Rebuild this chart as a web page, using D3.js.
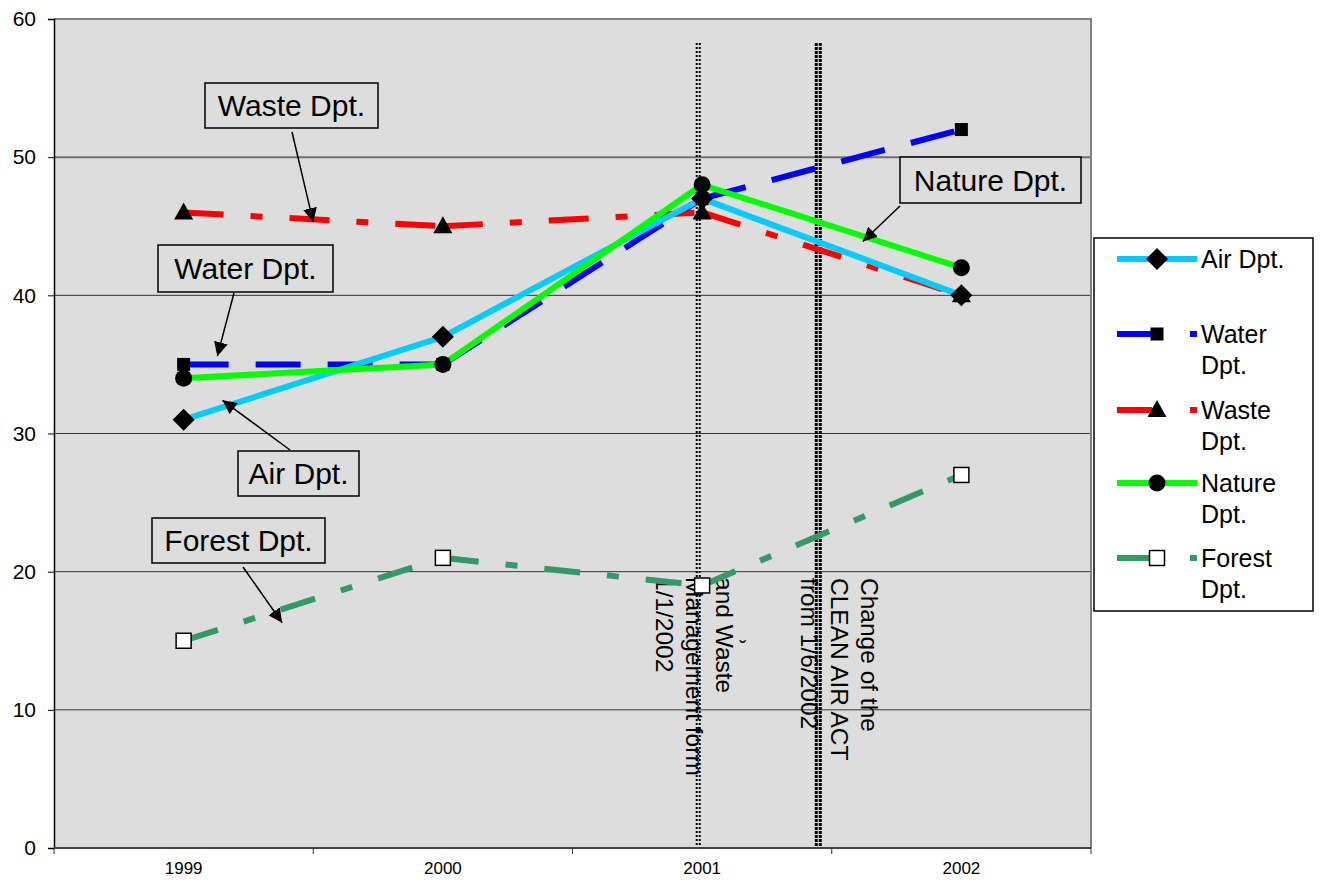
<!DOCTYPE html>
<html><head><meta charset="utf-8">
<script src="https://cdn.jsdelivr.net/npm/d3@7/dist/d3.min.js"></script>
<style>body{margin:0;background:#fff}svg{display:block;font-family:"Liberation Sans",Arial,sans-serif}</style>
</head><body><svg id="c" width="1321" height="887"></svg>
<script>
const years = ["1999","2000","2001","2002"];
const yTicks = [0,10,20,30,40,50,60];
const air    = [31,37,47,40];
const water  = [35,35,47,52];
const waste  = [46,45,46,40];
const nature = [34,35,48,42];
const forest = [15,21,19,27];
const seriesNames = ["Air Dpt.","Water Dpt.","Waste Dpt.","Nature Dpt.","Forest Dpt."];

const svg = d3.select("#c");
const L=54,R=1091,T=19,B=848;
const x = d3.scaleBand().domain(years).range([L,R]).paddingInner(0).paddingOuter(0);
const bw = x.bandwidth();
const xi = i => L + bw*(i+0.5);
const y = d3.scaleLinear().domain([0,60]).range([B,T]);

svg.append("rect").attr("x",L).attr("y",T).attr("width",R-L).attr("height",B-T).attr("fill","#dddddd");
// gridlines
yTicks.filter(v=>v>0&&v<60).forEach(v=>{
  svg.append("line").attr("x1",L).attr("x2",R).attr("y1",y(v)).attr("y2",y(v))
    .attr("stroke", v===50?"#707070":"#333").attr("stroke-width", v===50?2:1);
});
svg.append("line").attr("x1",L).attr("x2",R+1).attr("y1",T).attr("y2",T).attr("stroke","#808080").attr("stroke-width",2);
svg.append("line").attr("x1",R).attr("x2",R).attr("y1",T).attr("y2",B).attr("stroke","#808080").attr("stroke-width",2);

// axes
const yAxis = d3.axisLeft(y).tickValues(yTicks).tickSize(6).tickPadding(12);
const gy = svg.append("g").attr("transform",`translate(${L},0)`).call(yAxis);
gy.select(".domain").attr("stroke","#000").attr("stroke-width",1.5);
gy.selectAll("text").attr("font-size",21).attr("fill","#000").attr("font-family","Liberation Sans, Arial, sans-serif");
const xAxis = d3.axisBottom(x).tickSize(0).tickPadding(14);
const gx = svg.append("g").attr("transform",`translate(0,${B})`).call(xAxis);
gx.select(".domain").remove();
gx.selectAll("text").attr("font-size",17).attr("fill","#000").attr("font-family","Liberation Sans, Arial, sans-serif").attr("dy","0.71em");
svg.append("line").attr("x1",L).attr("x2",R).attr("y1",B).attr("y2",B).attr("stroke","#444").attr("stroke-width",2);
d3.range(years.length+1).forEach(i=>{
  svg.append("line").attr("x1",L+bw*i).attr("x2",L+bw*i).attr("y1",B).attr("y2",B+6).attr("stroke","#333").attr("stroke-width",1);
});

// vertical event lines
const events = [{pos:1.985, w:2, cols:2},{pos:2.448, w:3, cols:2}];
events.forEach(ev=>{
  const cx = xi(ev.pos);
  const sp = ev.w+1;
  for(let c=0;c<ev.cols;c++){
    svg.append("line").attr("x1",cx-sp/2+c*sp).attr("x2",cx-sp/2+c*sp).attr("y1",43).attr("y2",B-2)
      .attr("stroke","#000").attr("stroke-width",ev.w).attr("stroke-dasharray",ev.w===2?"2,2":"3,1");
  }
});

// rotated texts
function vtext(lines, xRight, yTop, fs){
  const g = svg.append("g").attr("transform",`translate(${xRight},${yTop}) rotate(90)`);
  lines.forEach((t,i)=>{
    g.append("text").attr("x",0).attr("y",i*30).attr("dy","0.78em").attr("font-size",fs).attr("fill","#000").text(t);
  });
}
vtext(["Change of the","CLEAN AIR ACT","from 1/6/2002"], 880, 578, 24.5);
vtext(["and Waste","Management form","1/1/2002"], 735, 577, 24.5);
svg.append("text").attr("x",743).attr("y",655).attr("text-anchor","middle").attr("font-size",20).text("\u02D8");

// series
const series = [
  {name:seriesNames[0], vals:air,    color:"#00ccff", dash:null, marker:"diamond"},
  {name:seriesNames[1], vals:water,  color:"#0000ff", dash:"45,27", marker:"square"},
  {name:seriesNames[2], vals:waste,  color:"#ff0000", dash:"40,27,12,27", marker:"triangle"},
  {name:seriesNames[3], vals:nature, color:"#00ff00", dash:null, marker:"circle"},
  {name:seriesNames[4], vals:forest, color:"#339966", dash:"36,27,12,27", marker:"open"}
];
const drawOrder = [4,2,1,0,3];
drawOrder.forEach(si=>{
  const s = series[si];
  for(let i=0;i<s.vals.length-1;i++){
    const ln = svg.append("line").attr("x1",xi(i)).attr("y1",y(s.vals[i])).attr("x2",xi(i+1)).attr("y2",y(s.vals[i+1]))
      .attr("stroke",s.color).attr("stroke-width",6);
    if(s.dash) ln.attr("stroke-dasharray",s.dash);
  }
});
function marker(g,type,cx,cy){
  if(type==="diamond") g.append("path").attr("d",`M${cx},${cy-11}L${cx+11},${cy}L${cx},${cy+11}L${cx-11},${cy}Z`).attr("fill","#000");
  else if(type==="square") g.append("rect").attr("x",cx-6.5).attr("y",cy-6.5).attr("width",13).attr("height",13).attr("fill","#000");
  else if(type==="triangle") g.append("path").attr("d",`M${cx},${cy-10}L${cx+9.5},${cy+7}L${cx-9.5},${cy+7}Z`).attr("fill","#000");
  else if(type==="circle") g.append("circle").attr("cx",cx).attr("cy",cy).attr("r",8.5).attr("fill","#000");
  else if(type==="open") g.append("rect").attr("x",cx-7.5).attr("y",cy-7.5).attr("width",15).attr("height",15).attr("fill","#fff").attr("stroke","#000").attr("stroke-width",1.5);
}
drawOrder.forEach(si=>{
  const s = series[si];
  s.vals.forEach((v,i)=>marker(svg,s.marker,xi(i),y(v)));
});

// annotation callouts
svg.append("defs").append("marker").attr("id","ah").attr("viewBox","0 0 10 10").attr("refX",10).attr("refY",5)
  .attr("markerWidth",14).attr("markerHeight",14).attr("markerUnits","userSpaceOnUse").attr("orient","auto")
  .append("path").attr("d","M0,0L10,5L0,10Z").attr("fill","#000");
const notes = [
  {text:"Waste Dpt.", box:[205,83,173,45], from:[292,132], tip:[0.50,45.3]},
  {text:"Water Dpt.", box:[158,245,175,47], from:[234,293], tip:[0.13,35.6]},
  {text:"Air Dpt.",   box:[238,451,121,45], from:[290,450], tip:[0.15,32.4]},
  {text:"Forest Dpt.",box:[152,518,173,45], from:[243,567], tip:[0.38,16.3]},
  {text:"Nature Dpt.",box:[900,157,181,46], from:[900,206], tip:[2.62,43.9]}
];
notes.forEach(n=>{
  svg.append("line").attr("x1",n.from[0]).attr("y1",n.from[1]).attr("x2",xi(n.tip[0])).attr("y2",y(n.tip[1]))
    .attr("stroke","#000").attr("stroke-width",1.5).attr("marker-end","url(#ah)");
  svg.append("rect").attr("x",n.box[0]).attr("y",n.box[1]).attr("width",n.box[2]).attr("height",n.box[3])
    .attr("fill","#dddddd").attr("stroke","#000").attr("stroke-width",1.5);
  svg.append("text").attr("x",n.box[0]+n.box[2]/2).attr("y",n.box[1]+n.box[3]/2).attr("dy","0.36em")
    .attr("text-anchor","middle").attr("font-size",30).attr("fill","#000").text(n.text);
});

// legend
const lg = svg.append("g");
lg.append("rect").attr("x",1094).attr("y",238).attr("width",219).attr("height",373).attr("fill","#fff").attr("stroke","#000").attr("stroke-width",1.5);
const legY = [259,334,410,483,558];
series.forEach((s,i)=>{
  const yy = legY[i];
  if(s.dash){
    lg.append("line").attr("x1",1117).attr("x2",1152).attr("y1",yy).attr("y2",yy).attr("stroke",s.color).attr("stroke-width",6);
    lg.append("line").attr("x1",1190).attr("x2",1197).attr("y1",yy).attr("y2",yy).attr("stroke",s.color).attr("stroke-width",6);
  } else {
    lg.append("line").attr("x1",1117).attr("x2",1197).attr("y1",yy).attr("y2",yy).attr("stroke",s.color).attr("stroke-width",6);
  }
  marker(lg,s.marker,1157,yy);
  const parts = s.name.split(" ");
  if(i===0){
    lg.append("text").attr("x",1201).attr("y",yy).attr("dy","0.36em").attr("font-size",25).text(s.name);
  } else {
    parts.forEach((p,k)=>lg.append("text").attr("x",1201).attr("y",yy+k*31).attr("dy","0.36em").attr("font-size",25).text(p));
  }
});
</script></body></html>
